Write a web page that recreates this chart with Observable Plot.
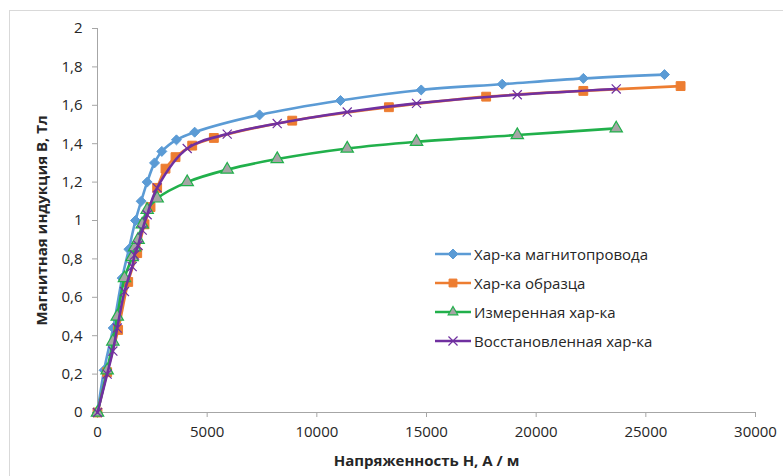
<!DOCTYPE html>
<html>
<head>
<meta charset="utf-8">
<script src="https://cdn.jsdelivr.net/npm/d3@7"></script>
<script src="https://cdn.jsdelivr.net/npm/@observablehq/plot@0.6"></script>
<style>
  html, body { margin: 0; padding: 0; background: #fff; }
  #wrap { position: relative; width: 783px; height: 476px; overflow: hidden; font-family: "Open Sans", sans-serif; }
  #border { position: absolute; left: 9px; top: 10px; width: 900px; height: 600px; border-left: 1px solid #d9d9d9; border-top: 1px solid #d9d9d9; }
  #chart { position: absolute; left: 0; top: 0; }
  #legend { position: absolute; left: 434px; top: 239px; font-size: 15px; color: #262626; }
  #legend .row { height: 29px; display: flex; align-items: center; }
  #legend svg { margin-right: 2px; }
  g[aria-label="x-axis label"] text, g[aria-label="y-axis label"] text { font-weight: bold; }
</style>
</head>
<body>
<div id="wrap"><div id="border"></div><div id="chart"></div><div id="legend"></div></div>
<script>
// Series names
const names = ["Хар-ка магнитопровода", "Хар-ка образца", "Измеренная хар-ка", "Восстановленная хар-ка"];

// Хар-ка магнитопровода
const coreH = [0, 300, 715, 1125, 1430, 1733, 1990, 2265, 2600, 2933, 3600, 4430, 7390, 11080, 14760, 18450, 22150, 25850];
const coreB = [0, 0.22, 0.44, 0.70, 0.85, 1.0, 1.1, 1.2, 1.3, 1.36, 1.42, 1.46, 1.55, 1.625, 1.68, 1.71, 1.74, 1.76];

// Хар-ка образца
const sampleH = [0, 440, 940, 1400, 1810, 2143, 2417, 2720, 3100, 3557, 4318, 5305, 8878, 13285, 17720, 22150, 26585];
const sampleB = [0, 0.21, 0.43, 0.68, 0.83, 0.98, 1.07, 1.17, 1.27, 1.33, 1.39, 1.43, 1.52, 1.59, 1.645, 1.675, 1.70];

// Измеренная хар-ка
const measH = [0, 440, 700, 900, 1230, 1580, 1690, 1850, 2040, 2265, 2720, 4090, 5914, 8194, 11385, 14546, 19138, 23650];
const measB = [0, 0.22, 0.37, 0.5, 0.7, 0.81, 0.86, 0.9, 0.98, 1.055, 1.115, 1.2, 1.265, 1.32, 1.375, 1.41, 1.445, 1.48];

// Восстановленная хар-ка
const restH = [0, 440, 700, 900, 1230, 1580, 1690, 1850, 2040, 2265, 2720, 4090, 5914, 8194, 11385, 14546, 19138, 23650];
const restB = [0, 0.2, 0.32, 0.44, 0.63, 0.76, 0.82, 0.87, 0.95, 1.03, 1.17, 1.375, 1.45, 1.505, 1.565, 1.61, 1.655, 1.685];

// Axis ticks
const xTicks = [0, 5000, 10000, 15000, 20000, 25000, 30000];
const yTicks = [0, 0.2, 0.4, 0.6, 0.8, 1, 1.2, 1.4, 1.6, 1.8, 2];

const xTitle = "Напряженность H, A / м";
const yTitle = "Магнитная индукция B, Тл";

const toRows = (H, B) => H.map((h, i) => ({h, b: B[i]}));

const series = [
  {rows: toRows(coreH, coreB), color: "#5b9bd5", symbol: "diamond2", fill: "#5b9bd5", stroke: "#5b9bd5", r: 4.5, sw: 1},
  {rows: toRows(sampleH, sampleB), color: "#ed7d31", symbol: "square", fill: "#ed7d31", stroke: "#ed7d31", r: 5, sw: 1},
  {rows: toRows(measH, measB), color: "#21b04b", symbol: "triangle", fill: "#a5a5a5", stroke: "#21b04b", r: 4.6, sw: 1.2},
  {rows: toRows(restH, restB), color: "#7030a0", symbol: "times", fill: "none", stroke: "#7030a0", r: 4.2, sw: 1.2}
];

const marks = [
  Plot.ruleX([0], {stroke: "#a6a6a6", strokeWidth: 1}),
  Plot.ruleY([0], {stroke: "#a6a6a6", strokeWidth: 1}),
  Plot.axisX({ticks: xTicks, tickFormat: d => String(d), tickSize: 5, tickPadding: 9, stroke: "#a6a6a6", color: "#262626",
    label: xTitle, labelAnchor: "center", labelArrow: "none", labelOffset: 53}),
  Plot.axisY({ticks: yTicks, tickFormat: d => String(d).replace(".", ","), tickSize: 5, tickPadding: 10, stroke: "#a6a6a6", color: "#262626",
    label: yTitle, labelAnchor: "center", labelArrow: "none", labelOffset: 61})
];
for (const s of series) {
  marks.push(Plot.line(s.rows, {x: "h", y: "b", stroke: s.color, strokeWidth: 2.6, curve: "catmull-rom"}));
  marks.push(Plot.dot(s.rows, {x: "h", y: "b", symbol: () => s.symbol, r: s.r, fill: s.fill, stroke: s.stroke, strokeWidth: s.sw}));
}

const chart = Plot.plot({
  width: 783,
  height: 476,
  marginLeft: 97,
  marginRight: 28,
  marginTop: 28,
  marginBottom: 64,
  style: {fontFamily: "Open Sans", fontSize: "15px", background: "transparent", overflow: "visible"},
  x: {domain: [0, 30000], label: null},
  y: {domain: [0, 2], label: null},
  symbol: {type: "identity"},
  marks
});
document.getElementById("chart").appendChild(chart);

// Legend
const legend = document.getElementById("legend");
series.forEach((s, i) => {
  const row = document.createElement("div");
  row.className = "row";
  const svg = d3.create("svg").attr("width", 38).attr("height", 14);
  svg.append("line").attr("x1", 1).attr("x2", 37).attr("y1", 7).attr("y2", 7).attr("stroke", s.color).attr("stroke-width", 2.6);
  const sym = {diamond2: d3.symbolDiamond2, square: d3.symbolSquare2, triangle: d3.symbolTriangle2, times: d3.symbolTimes}[s.symbol];
  svg.append("path").attr("transform", "translate(19,7)")
    .attr("d", d3.symbol(sym, Math.PI * s.r * s.r)())
    .attr("fill", s.fill).attr("stroke", s.stroke).attr("stroke-width", s.sw);
  row.appendChild(svg.node());
  const t = document.createElement("span");
  t.textContent = names[i];
  row.appendChild(t);
  legend.appendChild(row);
});
</script>
</body>
</html>
